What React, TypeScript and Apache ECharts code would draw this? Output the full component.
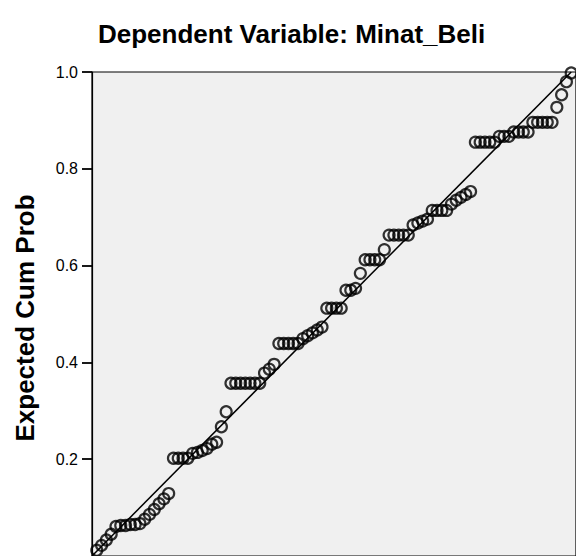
import React, { useEffect, useRef } from "react";
import * as echarts from "echarts";

const titleText = "Dependent Variable: Minat_Beli";
const yAxisTitle = "Expected Cum Prob";

const observedCumProb = [
  0.01, 0.02, 0.03, 0.04, 0.05, 0.06, 0.07, 0.08, 0.09, 0.1,
  0.11, 0.12, 0.13, 0.14, 0.15, 0.16, 0.17, 0.18, 0.19, 0.2,
  0.21, 0.22, 0.23, 0.24, 0.25, 0.26, 0.27, 0.28, 0.29, 0.3,
  0.31, 0.32, 0.33, 0.34, 0.35, 0.36, 0.37, 0.38, 0.39, 0.4,
  0.41, 0.42, 0.43, 0.44, 0.45, 0.46, 0.47, 0.48, 0.49, 0.5,
  0.51, 0.52, 0.53, 0.54, 0.55, 0.56, 0.57, 0.58, 0.59, 0.6,
  0.61, 0.62, 0.63, 0.64, 0.65, 0.66, 0.67, 0.68, 0.69, 0.7,
  0.71, 0.72, 0.73, 0.74, 0.75, 0.76, 0.77, 0.78, 0.79, 0.8,
  0.81, 0.82, 0.83, 0.84, 0.85, 0.86, 0.87, 0.88, 0.89, 0.9,
  0.91, 0.92, 0.93, 0.94, 0.95, 0.96, 0.97, 0.98, 0.99, 1.0,
];

const expectedCumProb = [
  0.012, 0.022, 0.033, 0.045,
  0.061, 0.063, 0.063, 0.065, 0.065, 0.067,
  0.076, 0.086, 0.096, 0.108, 0.118, 0.129,
  0.202, 0.202, 0.202, 0.202,
  0.212, 0.214, 0.218, 0.222,
  0.231, 0.235,
  0.267, 0.298,
  0.357, 0.357, 0.357, 0.357, 0.357, 0.357, 0.357,
  0.378, 0.386, 0.396,
  0.439, 0.439, 0.439, 0.439, 0.439,
  0.449, 0.455, 0.461, 0.467, 0.473,
  0.512, 0.512, 0.512, 0.512,
  0.549, 0.549, 0.553,
  0.584,
  0.612, 0.612, 0.612, 0.612,
  0.633,
  0.663, 0.663, 0.663, 0.663, 0.663,
  0.684, 0.688, 0.692, 0.696,
  0.714, 0.714, 0.714, 0.714,
  0.727, 0.735, 0.741, 0.747, 0.753,
  0.855, 0.855, 0.855, 0.855, 0.855,
  0.867, 0.867, 0.867,
  0.876, 0.876, 0.876, 0.876,
  0.896, 0.896, 0.896, 0.896, 0.896,
  0.927, 0.953, 0.98, 0.998,
];

const refLineX = [0, 1];
const refLineY = [0, 1];

export default function App() {
  const ref = useRef<HTMLDivElement>(null);
  useEffect(() => {
    const chart = echarts.init(ref.current!, null, { renderer: "svg" });
    chart.setOption({
      animation: false,
      backgroundColor: "#ffffff",
      textStyle: { fontFamily: "Liberation Sans, Arial, sans-serif" },
      title: {
        text: titleText,
        left: 93,
        top: 16,
        textStyle: {
          fontSize: 26,
          fontWeight: "bold",
          color: "#000",
          fontFamily: "Liberation Sans, Arial, sans-serif",
        },
      },
      grid: {
        left: 92,
        top: 72,
        width: 487,
        height: 490,
        show: true,
        backgroundColor: "#f0f0f0",
        borderColor: "#000",
        borderWidth: 1.2,
      },
      xAxis: { type: "value", min: 0, max: 1.01, show: false },
      yAxis: {
        type: "value",
        min: 0,
        max: 1,
        interval: 0.2,
        name: yAxisTitle,
        nameLocation: "middle",
        nameGap: 54,
        nameTextStyle: {
          fontSize: 26,
          fontWeight: "bold",
          color: "#000",
          fontFamily: "Liberation Sans, Arial, sans-serif",
          padding: [0, 0, 0, -8],
        },
        axisLine: { show: true, lineStyle: { color: "#000", width: 1.2 } },
        axisTick: { show: true, length: 10, lineStyle: { color: "#000", width: 1.8 } },
        axisLabel: {
          color: "#000",
          fontSize: 16,
          margin: 14,
          showMinLabel: false,
          fontFamily: "Liberation Sans, Arial, sans-serif",
          formatter: (v: number) => v.toFixed(1),
        },
        splitLine: { show: false },
      },
      series: [
        {
          type: "line",
          data: refLineX.map((x, i) => [x, refLineY[i]]),
          symbol: "none",
          showSymbol: false,
          silent: true,
          lineStyle: { color: "#000", width: 1.5 },
        },
        {
          type: "scatter",
          data: observedCumProb.map((x, i) => [x, expectedCumProb[i]]),
          symbol: "circle",
          symbolSize: 11,
          itemStyle: { color: "transparent", borderColor: "#000", borderWidth: 2.2 },
        },
      ],
    });
    return () => chart.dispose();
  }, []);
  return (
    <div
      ref={ref}
      style={{ position: "fixed", left: 0, top: 0, width: 576, height: 556 }}
    />
  );
}
